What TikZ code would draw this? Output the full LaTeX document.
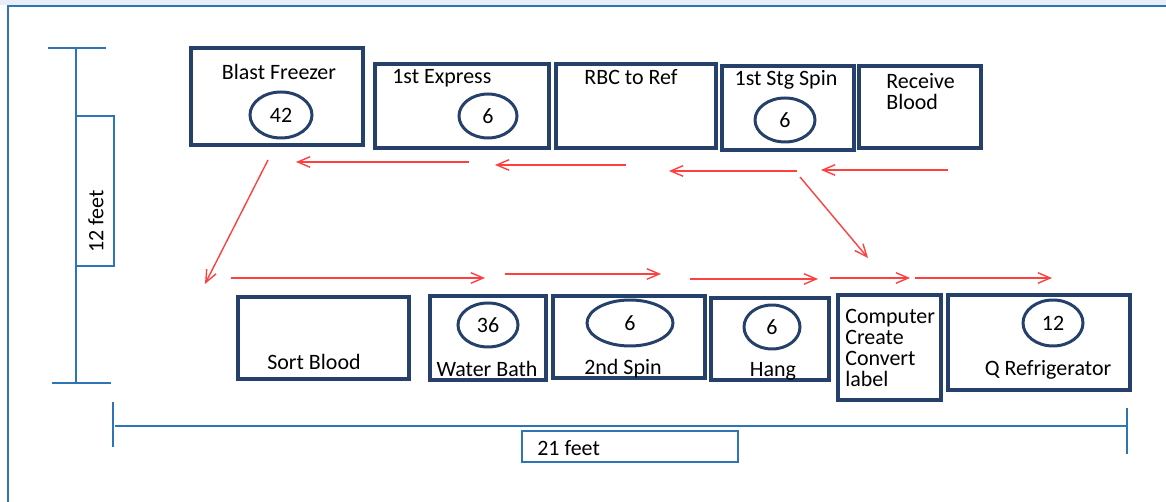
\documentclass[tikz,border=0pt]{standalone}
\usepackage{fontspec}
\setmainfont{Carlito}
\usetikzlibrary{arrows.meta,shapes.geometric}
\definecolor{cnavy}{RGB}{37,64,107}
\definecolor{cblue}{RGB}{46,117,182}
\definecolor{cred}{RGB}{255,64,64}
\definecolor{cband}{RGB}{232,238,247}

\tikzset{
  room/.style={draw=cnavy,line width=2.2pt,anchor=north west,outer sep=0pt,inner sep=0pt},
  count/.style={ellipse,draw=cnavy,line width=1.7pt,inner sep=0pt,font=\fontsize{12.5}{12}\selectfont},
  lbl/.style={inner sep=0pt,font=\fontsize{12.5}{12}\selectfont,text=black},
  flow/.style={cred,line width=0.8pt,-{Straight Barb[length=7pt,width=6pt]}},
  dim/.style={cblue,line width=1.6pt},
  dimbox/.style={draw=cblue,line width=0.6pt,fill=white,inner sep=0pt,outer sep=0pt},
}

\begin{document}
\begin{tikzpicture}[x=0.02cm,y=-0.02cm]
\useasboundingbox (0,0) rectangle (1166,502);

% frame
\fill[cband] (0,0) rectangle (1166,5);
\draw[cblue,line width=1.2pt] (8,502) -- (8,6) -- (1166,6);

% rooms
\foreach \n/\xa/\ya/\xb/\yb in {
	freezer/191/48/363/145,
	express/375/64/549/148,
	rbc/556/64/716/148,
	stgspin/722/66/854/150,
	receive/859/66/981/148,
	sort/238/297/409/379,
	bath/430/296/546/380,
	spin/553/296/705/378,
	hang/711/298/829/380,
	computer/838/295/941/400,
	qref/948/295/1130/390
}{
    \node[room,minimum width={(\xb-\xa)*0.02cm},minimum height={(\yb-\ya)*0.02cm}] (\n) at (\xa,\ya) {};
}

% counts
\foreach \n/\cx/\cy/\w/\h/\v in {
	freezern/281/115/62/46/42,
	expressn/488/116/58/44/6,
	stgspinn/785/120/60/44/6,
	bathn/488/325/60/44/36,
	spinn/630/323/86/46/6,
	hangn/772/327/56/44/6,
	qrefn/1053/323/60/46/12
}{
    \node[count,minimum width={\w*0.02cm},minimum height={\h*0.02cm}] (\n) at (\cx,\cy) {\v};
}

% room names
\node[lbl] (freezert) at (279,72) {Blast Freezer};
\node[lbl,anchor=west] (expresst) at (392,78) {1st Express};
\node[lbl] (rbct) at (631,77) {RBC to Ref};
\node[lbl] (stgspint) at (786,80) {1st Stg Spin};
\node[lbl,anchor=north west,align=left] (receivet) at (886,73) {Receive\\Blood};
\node[lbl] (sortt) at (314,362) {Sort Blood};
\node[lbl] (batht) at (487,369) {Water Bath};
\node[lbl] (spint) at (623,369) {2nd Spin};
\node[lbl] (hangt) at (773,371) {Hang};
\node[lbl,anchor=north west,align=left] (computert) at (845,309) {Computer\\Create\\Convert\\label};
\node[lbl] (qreft) at (1048,370) {Q Refrigerator};

% flow
\foreach \i/\xa/\ya/\xb/\yb in {
	1/469/162/296/162,
	2/626/165/495/165,
	3/797/171/669/171,
	4/948/170/821/170,
	5/268/160/205/284,
	6/800/177/868/258,
	7/231/278/485/278,
	8/505/274/661/274,
	9/690/279/818/279,
	10/830/278/910/278,
	11/915/278/1052/278
}{
    \coordinate (s\i) at (\xa,\ya);
    \coordinate (e\i) at (\xb,\yb);
    \draw[flow] (s\i) -- (e\i);
}

% 12 feet
\coordinate (vtop) at (76,48);
\coordinate (vbot) at (76,383);
\draw[dim] (vtop) -- (vbot);
\draw[dim,line width=1.2pt] (48,48) -- (106,48);
\draw[dim,line width=1.2pt] (52,383) -- (111,383);
\node[dimbox,anchor=north west,minimum width={38*0.02cm},minimum height={150*0.02cm}] (ftbox) at (76,116) {};
\node[lbl,rotate=90,anchor=west] (ftt) at (96,253) {12 feet};

% 21 feet
\coordinate (hleft) at (115,426);
\coordinate (hright) at (1127,426);
\draw[cblue,line width=0.9pt] (hleft) -- (hright);
\draw[dim,line width=1.3pt] (113,402) -- (113,447);
\draw[dim,line width=1.3pt] (1127,408) -- (1127,454);
\node[dimbox,anchor=north west,minimum width={216*0.02cm},minimum height={31*0.02cm}] (wdbox) at (522,431) {};
\node[lbl,anchor=west] (wdt) at (537,448) {21 feet};

\end{tikzpicture}
\end{document}
